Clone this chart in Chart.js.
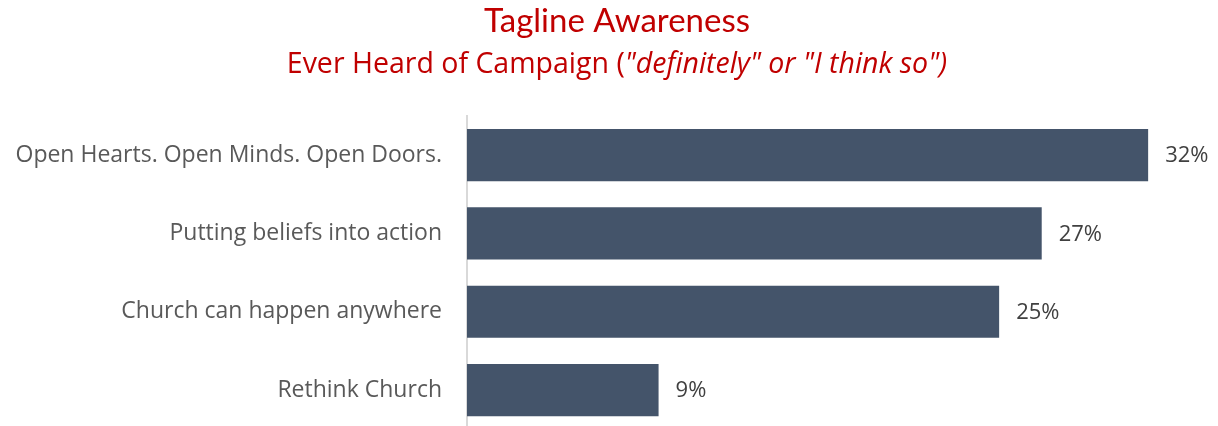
<!DOCTYPE html>
<html>
<head>
<meta charset="utf-8">
<script src="https://cdn.jsdelivr.net/npm/chart.js@4"></script>
<style>
  html, body { margin: 0; padding: 0; background: #fff; overflow: hidden; }
  #wrap { position: relative; width: 1218px; height: 468px; }
</style>
</head>
<body>
<div id="wrap"><canvas id="awareness"></canvas></div>
<script>
const categories = [
  'Open Hearts. Open Minds. Open Doors.',
  'Putting beliefs into action',
  'Church can happen anywhere',
  'Rethink Church'
]
const awareness = [32, 27, 25, 9]
const titleText = 'Tagline Awareness'
const subtitleParts = [
  { text: 'Ever Heard of Campaign (', italic: false },
  { text: '"definitely" or "I think so")', italic: true }
]

const RED = '#C00000'
const BAR = '#44546A'

// title + subtitle, subtitle has an italic tail so draw it by hand
const titlePlugin = {
  id: 'titles',
  afterDraw(chart) {
    const ctx = chart.ctx
    const cx = 617
    ctx.save()
    ctx.fillStyle = RED
    ctx.textBaseline = 'alphabetic'
    ctx.font = '33px Lato'
    const tw = ctx.measureText(titleText).width
    ctx.fillText(titleText, cx - tw / 2, 32)

    const fonts = subtitleParts.map(p => (p.italic ? 'italic ' : '') + '28.5px "Open Sans"')
    let total = 0
    subtitleParts.forEach((p, i) => {
      ctx.font = fonts[i]
      total += ctx.measureText(p.text).width
    })
    let x = cx - total / 2
    subtitleParts.forEach((p, i) => {
      ctx.font = fonts[i]
      ctx.fillText(p.text, x, 73)
      x += ctx.measureText(p.text).width
    })
    ctx.restore()
  }
}

// value labels to the right of each bar
const valueLabels = {
  id: 'valueLabels',
  afterDatasetsDraw(chart) {
    const ctx = chart.ctx
    const meta = chart.getDatasetMeta(0)
    ctx.save()
    ctx.font = '22px "Open Sans"'
    ctx.fillStyle = '#404040'
    ctx.textBaseline = 'middle'
    ctx.textAlign = 'left'
    meta.data.forEach((bar, i) => {
      ctx.fillText(awareness[i] + '%', bar.x + 17, bar.y + 1)
    })
    ctx.restore()
  }
}

new Chart(document.getElementById('awareness'), {
  type: 'bar',
  data: {
    labels: categories,
    datasets: [{
      data: awareness,
      backgroundColor: BAR,
      borderWidth: 0,
      barPercentage: 0.667,
      categoryPercentage: 1
    }]
  },
  options: {
    indexAxis: 'y',
    responsive: true,
    maintainAspectRatio: false,
    animation: false,
    layout: { padding: { top: 116, right: 6, bottom: 12, left: 0 } },
    plugins: {
      legend: { display: false },
      tooltip: { enabled: false },
      title: { display: false }
    },
    scales: {
      x: {
        display: false,
        min: 0,
        max: 35
      },
      y: {
        grid: { display: false, drawTicks: false },
        border: { display: true, color: '#D9D9D9', width: 2 },
        ticks: {
          color: '#595959',
          font: { family: '"Open Sans"', size: 23 },
          padding: 25
        },
        afterFit(scale) { scale.width = 467 }
      }
    }
  },
  plugins: [titlePlugin, valueLabels]
})
</script>
</body>
</html>
